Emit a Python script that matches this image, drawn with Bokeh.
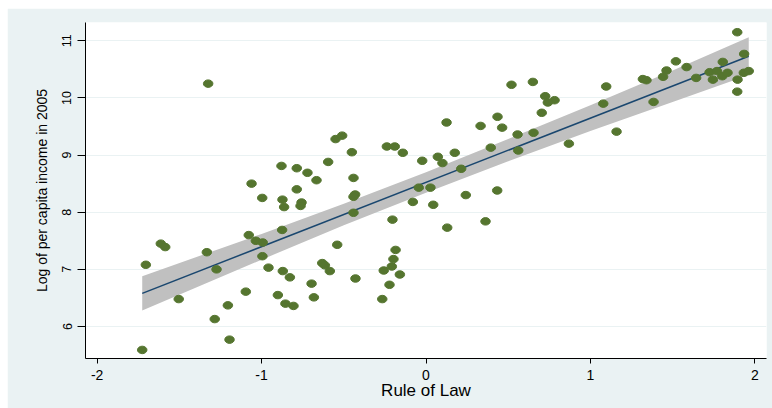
from bokeh.plotting import figure
from bokeh.models import ColumnDataSource, FixedTicker
from bokeh.embed import file_html
from bokeh.resources import INLINE

# ---- data ----
rule_of_law = [
    -1.325, -0.879, -0.786, -1.061, -0.786, -0.996, -0.873, -0.863, -1.704, -1.613,
    -1.586, -1.333, -1.274, -1.504, -1.096, -1.205, -1.285, -1.195, -1.726, -1.078,
    -1.035, -0.993, -0.875, -0.995, -0.958, -0.871, -0.828, -0.901, -0.855, -0.806,
    0.125, -0.550, -0.510, -0.238, -0.190, -0.141, -0.451, -0.595, -0.721, -0.666,
    -0.441, -0.757, -0.763, -0.431, -0.441, -0.441, -0.204, -0.023, 0.072, 0.100,
    0.175, -0.044, 0.027, -0.080, 0.044, 0.129,
    -0.540, -0.631, -0.615, -0.585, -0.696, -0.682, -0.429, -0.185, -0.198, -0.208,
    -0.257, -0.159, -0.222, -0.266,
    0.520, 0.650, 1.096, 0.725, 0.782, 0.741, 0.704, 0.435, 0.332, 0.463,
    1.078, 1.159, 0.557, 0.654, 0.394, 0.561, 0.869, 0.214, 0.242, 0.433, 0.362,
    1.893, 1.935, 1.520, 1.463, 1.585, 1.805, 1.319, 1.341, 1.442, 1.643,
    1.725, 1.770, 1.745, 1.802, 1.834, 1.895, 1.933, 1.963, 1.893, 1.384,
]
log_income = [
    10.25, 8.81, 8.77, 8.50, 8.40, 8.25, 8.22, 8.09, 7.08, 7.45,
    7.39, 7.30, 7.00, 6.48, 6.61, 6.37, 6.13, 5.77, 5.59, 7.60,
    7.50, 7.47, 7.69, 7.23, 7.03, 6.97, 6.86, 6.55, 6.40, 6.36,
    9.57, 9.28, 9.34, 9.15, 9.15, 9.04, 9.05, 8.88, 8.69, 8.56,
    8.60, 8.17, 8.11, 8.31, 8.27, 7.99, 7.87, 8.90, 8.97, 8.86,
    9.04, 8.43, 8.43, 8.18, 8.13, 7.73,
    7.43, 7.11, 7.07, 6.97, 6.75, 6.51, 6.84, 7.34, 7.18, 7.05,
    6.98, 6.91, 6.73, 6.48,
    10.23, 10.28, 10.20, 10.03, 9.96, 9.92, 9.74, 9.67, 9.51, 9.48,
    9.90, 9.41, 9.36, 9.39, 9.13, 9.08, 9.20, 8.76, 8.30, 8.38, 7.84,
    11.15, 10.77, 10.64, 10.48, 10.54, 10.63, 10.33, 10.31, 10.37, 10.35,
    10.45, 10.47, 10.32, 10.38, 10.44, 10.32, 10.44, 10.47, 10.11, 9.93,
]

# fitted line and 95% band
fit_x = [-1.726, 1.963]
fit_y = [6.58, 10.73]
band_x = [-1.726, -1.0, -0.5, 0.0, 0.5, 1.0, 1.5, 1.963]
band_upper = [6.88, 7.62, 8.15, 8.70, 9.28, 9.87, 10.48, 11.06]
band_lower = [6.28, 7.17, 7.77, 8.34, 8.89, 9.42, 9.93, 10.40]

x_ticks = [-2, -1, 0, 1, 2]
y_ticks = [6, 7, 8, 9, 10, 11]
x_title = "Rule of Law"
y_title = "Log of per capita income in 2005"

# ---- styling ----
BG = "#EAF2F3"
GREEN = "#55752F"
NAVY = "#1A476F"
BAND = "#C0C0C0"
FONT = "Liberation Sans"

p = figure(width=765, height=400, margin=(8, 0, 0, 7),
           output_backend="svg", toolbar_location=None,
           x_range=(-2.071, 2.071), y_range=(5.44, 11.32),
           min_border_left=78, min_border_right=6, min_border_top=14, min_border_bottom=50)
p.border_fill_color = BG
p.background_fill_color = "white"
p.outline_line_color = None

band_src = ColumnDataSource(dict(x=band_x, lo=band_lower, hi=band_upper))
p.varea(x="x", y1="lo", y2="hi", source=band_src, fill_color=BAND, fill_alpha=1.0)
p.line(fit_x, fit_y, line_color=NAVY, line_width=1.5)

pts = ColumnDataSource(dict(x=rule_of_law, y=log_income))
p.ellipse(x="x", y="y", width=9.5, height=7.5, width_units="screen", height_units="screen",
          source=pts, fill_color=GREEN, line_color=GREEN)

p.xgrid.grid_line_color = None
p.ygrid.grid_line_color = BG
p.ygrid.grid_line_width = 1.2

p.xaxis.ticker = FixedTicker(ticks=x_ticks)
p.yaxis.ticker = FixedTicker(ticks=y_ticks)
p.xaxis.major_label_overrides = {t: str(t) for t in x_ticks}
p.yaxis.major_label_overrides = {t: str(t) for t in y_ticks}

for ax in (p.xaxis[0], p.yaxis[0]):
    ax.axis_line_color = "black"
    ax.axis_line_width = 1
    ax.major_tick_line_color = "black"
    ax.minor_tick_line_color = None
    ax.major_tick_in = 0
    ax.major_label_text_font = FONT
    ax.major_label_text_color = "black"
    ax.axis_label_text_font = FONT
    ax.axis_label_text_font_style = "normal"
    ax.axis_label_text_color = "black"

p.xaxis.major_tick_out = 5
p.xaxis.major_label_text_font_size = "14px"
p.xaxis.major_label_standoff = 6
p.xaxis.axis_label = x_title
p.xaxis.axis_label_text_font_size = "17px"
p.xaxis.axis_label_standoff = -2

p.yaxis.major_tick_out = 8
p.yaxis.major_label_orientation = "vertical"
p.yaxis.major_label_text_font_size = "12.5px"
p.yaxis.major_label_standoff = 6
p.yaxis.axis_label = y_title
p.yaxis.axis_label_text_font_size = "14px"
p.yaxis.axis_label_standoff = 10

open("out.html", "w").write(file_html(p, INLINE))
